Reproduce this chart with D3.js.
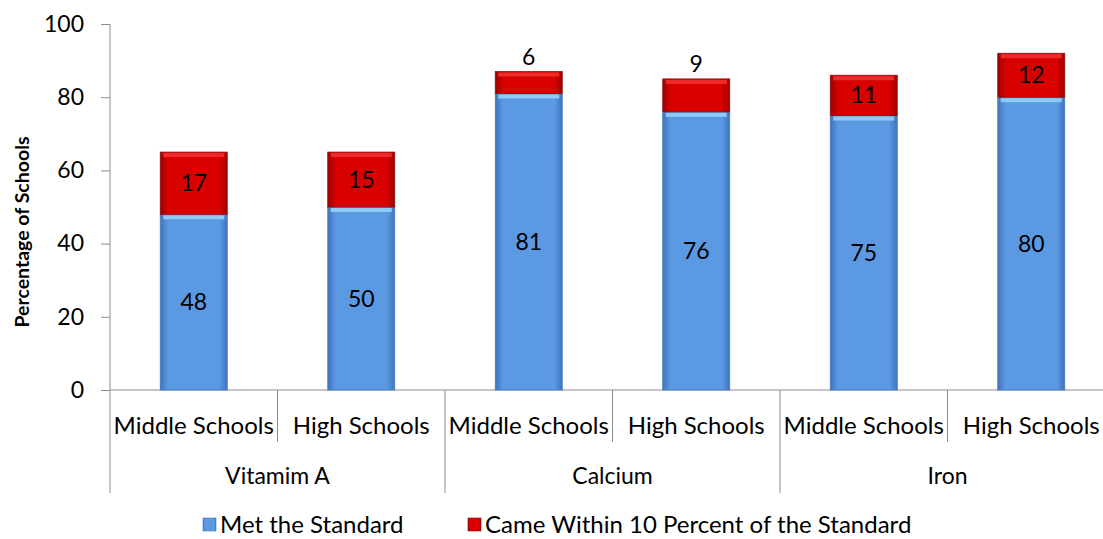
<!DOCTYPE html>
<html lang="en">
<head>
    <meta charset="UTF-8">
    <title>Percentage of Schools Meeting Nutrient Standards</title>
    <script src="https://d3js.org/d3.v7.min.js"></script>
    <style>
        body { margin: 0; background: #fff; }
        svg text { font-family: Lato, "Open Sans", sans-serif; fill: #000; }
        .axis line, .axis path { stroke: #8c8c8c; }
    </style>
</head>
<body>
<div id="chart"></div>
<script>
    // data
    const groups = ["Vitamim A", "Calcium", "Iron"];
    const schoolTypes = ["Middle Schools", "High Schools"];
    const metStandard = [48, 50, 81, 76, 75, 80];
    const within10 = [17, 15, 6, 9, 11, 12];
    const seriesNames = ["Met the Standard", "Came Within 10 Percent of the Standard"];
    const yTicks = [0, 20, 40, 60, 80, 100];

    const W = 1103, H = 539;
    const plotL = 110, plotR = 1115, plotT = 24, plotB = 390;

    const svg = d3.select("#chart").append("svg")
        .attr("width", W).attr("height", H);

    const defs = svg.append("defs");
    function barGrad(id, edge, mid) {
        const g = defs.append("linearGradient").attr("id", id)
            .attr("x1", 0).attr("x2", 1).attr("y1", 0).attr("y2", 0);
        g.append("stop").attr("offset", "0%").attr("stop-color", edge);
        g.append("stop").attr("offset", "12%").attr("stop-color", mid);
        g.append("stop").attr("offset", "88%").attr("stop-color", mid);
        g.append("stop").attr("offset", "100%").attr("stop-color", edge);
    }
    barGrad("gBlue", "#3f73bf", "#5b9ae3");
    barGrad("gRed", "#9c0000", "#d90000");

    // categories: one per group x school type
    const cats = [];
    groups.forEach(g => schoolTypes.forEach(s => cats.push(g + "|" + s)));

    const x = d3.scaleBand().domain(cats).range([plotL, plotR]).paddingInner(0).paddingOuter(0);
    const y = d3.scaleLinear().domain([0, 100]).range([plotB, plotT]);
    const barW = x.bandwidth() * 0.4;

    // y axis
    const yAxis = svg.append("g").attr("class", "axis")
        .attr("transform", `translate(${plotL},0)`)
        .call(d3.axisLeft(y).tickValues(yTicks).tickSize(9).tickPadding(17));
    yAxis.selectAll("text").style("font-size", "23px");
    yAxis.select(".domain").attr("d", `M0,${plotT}V${plotB}`);

    // x axis line
    svg.append("line").attr("x1", plotL).attr("x2", W).attr("y1", plotB).attr("y2", plotB)
        .attr("stroke", "#8c8c8c");

    // separators
    cats.forEach((c, i) => {
        const xx = x(c);
        const isGroup = i % schoolTypes.length === 0;
        svg.append("line")
            .attr("x1", xx).attr("x2", xx)
            .attr("y1", plotB).attr("y2", isGroup ? 493 : 442)
            .attr("stroke", "#8c8c8c");
    });

    // school type labels
    svg.selectAll(".catLabel").data(cats).enter().append("text")
        .attr("x", d => x(d) + x.bandwidth() / 2)
        .attr("y", 434)
        .attr("text-anchor", "middle")
        .style("font-size", "24px")
        .text(d => d.split("|")[1]);

    // group labels
    svg.selectAll(".grpLabel").data(groups).enter().append("text")
        .attr("x", g => x(g + "|" + schoolTypes[0]) + x.bandwidth())
        .attr("y", 484)
        .attr("text-anchor", "middle")
        .style("font-size", "23px")
        .text(g => g);

    // y title
    svg.append("text")
        .attr("transform", `translate(29,${(plotT + plotB) / 2 + 25}) rotate(-90)`)
        .attr("text-anchor", "middle")
        .style("font-size", "19.5px")
        .style("font-weight", "bold")
        .text("Percentage of Schools");

    // bars
    const rows = cats.map((c, i) => ({ cat: c, met: metStandard[i], near: within10[i] }));
    const bar = svg.selectAll(".bar").data(rows).enter().append("g");

    bar.append("rect")
        .attr("x", d => x(d.cat) + (x.bandwidth() - barW) / 2)
        .attr("y", d => y(d.met))
        .attr("width", barW)
        .attr("height", d => y(0) - y(d.met))
        .attr("fill", "url(#gBlue)")
        .attr("stroke", "#4a79b8").attr("stroke-width", 0.8);
    // light top edge on blue
    bar.append("rect")
        .attr("x", d => x(d.cat) + (x.bandwidth() - barW) / 2 + 3)
        .attr("y", d => y(d.met) + 1)
        .attr("width", barW - 6)
        .attr("height", 4)
        .attr("fill", "#8fcaf4");

    bar.append("rect")
        .attr("x", d => x(d.cat) + (x.bandwidth() - barW) / 2)
        .attr("y", d => y(d.met + d.near))
        .attr("width", barW)
        .attr("height", d => y(d.met) - y(d.met + d.near))
        .attr("fill", "url(#gRed)")
        .attr("stroke", "#8a1010").attr("stroke-width", 0.8);
    bar.append("rect")
        .attr("x", d => x(d.cat) + (x.bandwidth() - barW) / 2 + 3)
        .attr("y", d => y(d.met + d.near) + 1)
        .attr("width", barW - 6)
        .attr("height", 4)
        .attr("fill", "#ee2a2a");

    // value labels
    bar.append("text")
        .attr("x", d => x(d.cat) + x.bandwidth() / 2)
        .attr("y", d => y(d.met / 2))
        .attr("dy", "0.35em")
        .attr("text-anchor", "middle")
        .style("font-size", "23px")
        .text(d => d.met);

    bar.append("text")
        .attr("x", d => x(d.cat) + x.bandwidth() / 2)
        .attr("y", d => d.near < 10 ? y(d.met + d.near) - 15 : y(d.met + d.near / 2))
        .attr("dy", "0.35em")
        .attr("text-anchor", "middle")
        .style("font-size", "23px")
        .text(d => d.near);

    // legend
    const legX = [203, 468];
    const leg = svg.selectAll(".leg").data(seriesNames).enter().append("g")
        .attr("transform", (d, i) => `translate(${legX[i]},518)`);
    leg.append("rect").attr("width", 13).attr("height", 13)
        .attr("fill", (d, i) => i === 0 ? "url(#gBlue)" : "url(#gRed)")
        .attr("stroke", (d, i) => i === 0 ? "#4a79b8" : "#8a1010").attr("stroke-width", 0.6);
    leg.append("text").attr("x", 17).attr("y", 7).attr("dy", "0.33em")
        .style("font-size", "24px")
        .text(d => d);
</script>
</body>
</html>
